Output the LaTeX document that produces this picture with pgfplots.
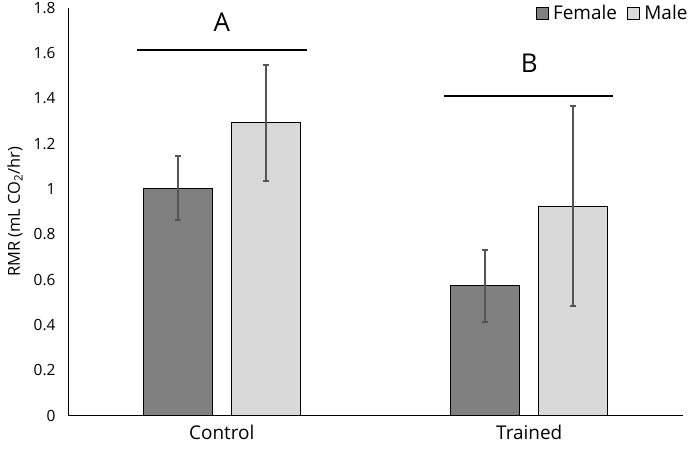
\documentclass[border=0pt]{standalone}
\usepackage{pgfplots}
\pgfplotsset{compat=1.18}
\usepackage{fontspec}
\setmainfont{Open Sans}
\definecolor{fem}{HTML}{808080}
\definecolor{mal}{HTML}{D9D9D9}
\definecolor{err}{HTML}{555555}
\begin{document}
\begin{tikzpicture}
\useasboundingbox (-68bp,-37.3bp) rectangle (624bp,415.7bp);
\begin{axis}[
  at={(0,0)}, anchor=south west,
  scale only axis, width=615bp, height=408bp,
  ybar, bar width=69bp,
  xmin=-0.5, xmax=1.5, ymin=0, ymax=1.8,
  xtick={0,1}, xticklabels={Control,Trained},
  ytick={0,0.2,...,1.8},
  yticklabels={0,0.2,0.4,0.6,0.8,1,1.2,1.4,1.6,1.8},
  axis x line*=bottom, axis y line*=left,
  axis line style={line width=0.9pt, black},
  major tick length=0pt,
  tick style={draw=none},
  yticklabel style={font=\fontsize{15.5}{18}\selectfont, xshift=-9bp},
  xticklabel style={font=\fontsize{19}{22}\selectfont, yshift=-6bp},
  ylabel={RMR (mL CO\textsubscript{2}/hr)},
  every axis y label/.style={at={(rel axis cs:0,0.5)}, rotate=90, anchor=center, yshift=53bp,
    font=\fontsize{16.5}{19}\selectfont},
  legend style={at={(1.014,1.016)}, anchor=north east, draw=none, fill=none,
    legend columns=2, font=\fontsize{19}{22}\selectfont,
    nodes={inner xsep=1bp},
    /tikz/every even column/.append style={column sep=9bp}},
  legend image code/.code={\path[draw=none, fill=none] (0bp,0bp) -- (16bp,0bp);
    \draw[#1, draw=black, line width=0.8pt] (0bp,-6bp) rectangle (12bp,6bp);},
  error bars/error bar style={color=err, line width=2pt},
  error bars/error mark options={rotate=90, mark size=3bp, line width=2pt, color=err},
]
\addplot[fill=fem, draw=black, line width=0.9pt, bar shift=-44bp,
  error bars/.cd, y dir=both, y explicit]
  coordinates {(0,1.003) +- (0,0.141) (1,0.573) +- (0,0.160)};
\addplot[fill=mal, draw=black, line width=0.9pt, bar shift=44bp,
  error bars/.cd, y dir=both, y explicit]
  coordinates {(0,1.292) +- (0,0.256) (1,0.925) +- (0,0.440)};
\legend{Female,Male}
\draw[line width=1.6pt] (axis cs:-0.277,1.614) -- (axis cs:0.276,1.614);
\draw[line width=1.6pt] (axis cs:0.723,1.41) -- (axis cs:1.273,1.41);
\node[font=\fontsize{26}{29}\selectfont] at (axis cs:0,1.737) {A};
\node[font=\fontsize{26}{29}\selectfont] at (axis cs:1,1.556) {B};
\end{axis}
\end{tikzpicture}
\end{document}
